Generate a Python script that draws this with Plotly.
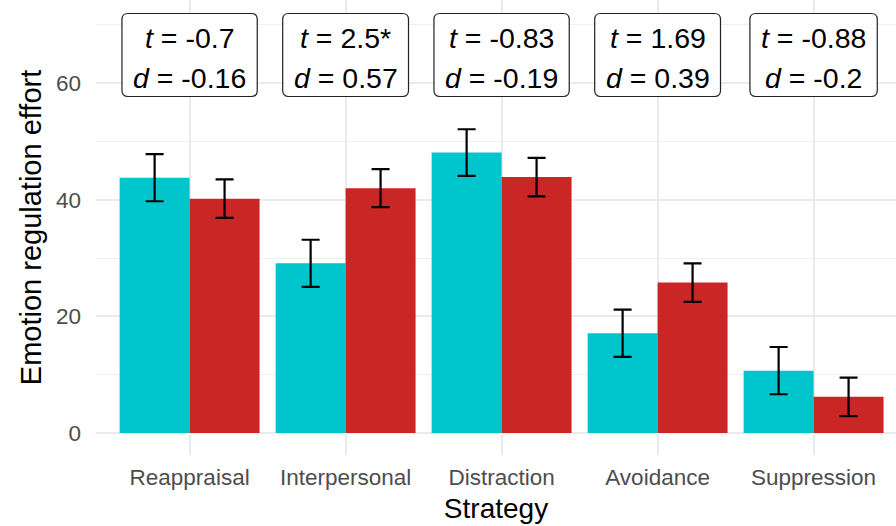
import plotly.graph_objects as go

# ---- data ----
strategies = ["Reappraisal", "Interpersonal", "Distraction", "Avoidance", "Suppression"]
teal_mean = [43.8, 29.1, 48.1, 17.1, 10.7]
teal_se = [4.05, 4.05, 4.0, 4.05, 4.05]
red_mean = [40.2, 42.0, 43.9, 25.8, 6.2]
red_se = [3.3, 3.25, 3.3, 3.3, 3.3]
t_values = ["-0.7", "2.5*", "-0.83", "1.69", "-0.88"]
d_values = ["-0.16", "0.57", "-0.19", "0.39", "-0.2"]

# ---- styling / geometry ----
TEAL = "#00C5CD"
RED = "#CB2626"
FONT = "Liberation Sans, Arial, sans-serif"
W, H = 896, 526
M_L, M_R, M_T, M_B = 96, 0, 0, 71
X_RANGE = [-0.6, -0.6 + (W - M_L - M_R) / 156.0]
Y_RANGE = [-3.77, 74.27]
px_per_x = (W - M_L - M_R) / (X_RANGE[1] - X_RANGE[0])
px_per_y = (H - M_T - M_B) / (Y_RANGE[1] - Y_RANGE[0])

LABEL_SIZE = 28.5
LABEL_PAD = 11
# approximate Arial advance widths (em) for sizing the label boxes
CHAR_W = {"0": .556, "1": .556, "2": .556, "3": .556, "4": .556, "5": .556,
          "6": .556, "7": .556, "8": .556, "9": .556, ".": .278, "-": .333,
          " ": .278, "=": .584, "t": .278, "d": .556, "*": .389}


def text_width(s, size):
    return sum(CHAR_W.get(c, .556) for c in s) * size


def rounded_rect(xc, yc, w_px, h_px, r_px):
    hw, hh = w_px / 2 / px_per_x, h_px / 2 / px_per_y
    rx, ry = r_px / px_per_x, r_px / px_per_y
    x0, x1, y0, y1 = xc - hw, xc + hw, yc - hh, yc + hh
    return (f"M {x0 + rx},{y1} L {x1 - rx},{y1} Q {x1},{y1} {x1},{y1 - ry} "
            f"L {x1},{y0 + ry} Q {x1},{y0} {x1 - rx},{y0} "
            f"L {x0 + rx},{y0} Q {x0},{y0} {x0},{y0 + ry} "
            f"L {x0},{y1 - ry} Q {x0},{y1} {x0 + rx},{y1} Z")


fig = go.Figure()
fig.add_trace(go.Bar(
    x=strategies, y=teal_mean, name="Group 1", marker_color=TEAL,
    marker_line_width=0,
    error_y=dict(type="data", array=teal_se, color="black", thickness=2.2, width=9),
))
fig.add_trace(go.Bar(
    x=strategies, y=red_mean, name="Group 2", marker_color=RED,
    marker_line_width=0,
    error_y=dict(type="data", array=red_se, color="black", thickness=2.2, width=9),
))

# t / d statistic labels above each strategy
box_center_y = Y_RANGE[1] - 55 / px_per_y
line1_y = Y_RANGE[1] - 37.5 / px_per_y
line2_y = Y_RANGE[1] - 77.5 / px_per_y
shapes = []
annotations = []
for i, (tv, dv) in enumerate(zip(t_values, d_values)):
    s1, s2 = f"t = {tv}", f"d = {dv}"
    w_px = max(text_width(s1, LABEL_SIZE), text_width(s2, LABEL_SIZE)) + 2 * LABEL_PAD
    shapes.append(dict(type="path", xref="x", yref="y",
                       path=rounded_rect(i, box_center_y, w_px, 83, 6),
                       line=dict(color="#222222", width=1.2),
                       fillcolor="white", layer="above"))
    for yv, sym, val in ((line1_y, "t", tv), (line2_y, "d", dv)):
        annotations.append(dict(
            x=i, y=yv, xref="x", yref="y", showarrow=False,
            text=f"<i>{sym}</i> = {val}", xanchor="center", yanchor="middle",
            font=dict(family=FONT, size=LABEL_SIZE, color="black"),
        ))

fig.update_layout(
    width=W, height=H,
    margin=dict(l=M_L, r=M_R, t=M_T, b=M_B),
    paper_bgcolor="white", plot_bgcolor="white",
    barmode="group", bargap=0.103, bargroupgap=0,
    showlegend=False,
    shapes=shapes, annotations=annotations,
    font=dict(family=FONT),
)
fig.update_xaxes(
    range=X_RANGE, showgrid=True, gridcolor="#EBEBEB", gridwidth=1.8,
    zeroline=False, showline=False, ticks="",
    tickfont=dict(family=FONT, size=22.5, color="#4D4D4D"),
    ticklabelstandoff=6,
    title=dict(text="Strategy", font=dict(family=FONT, size=28, color="black"),
               standoff=9),
)
fig.update_yaxes(
    range=Y_RANGE, tickvals=[0, 20, 40, 60],
    showgrid=True, gridcolor="#EBEBEB", gridwidth=1.8,
    minor=dict(tickvals=[10, 30, 50, 70], showgrid=True, gridcolor="#EFEFEF", gridwidth=1.2),
    zeroline=False, showline=False, ticks="",
    tickfont=dict(family=FONT, size=22.5, color="#4D4D4D"),
    ticklabelstandoff=14,
    title=dict(text="Emotion regulation effort",
               font=dict(family=FONT, size=29, color="black"), standoff=5),
)

fig.write_html("out.html")
